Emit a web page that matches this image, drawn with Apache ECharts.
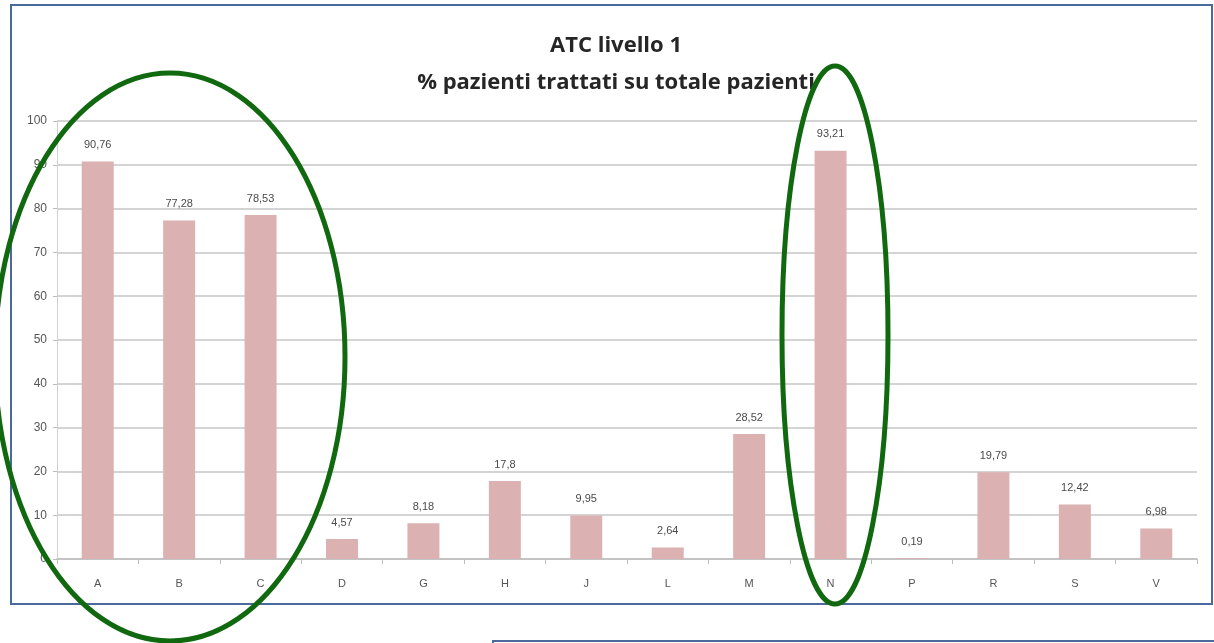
<!DOCTYPE html>
<html lang="it">
<head>
    <meta charset="UTF-8">
    <title>ATC livello 1</title>
    <script src="https://cdn.jsdelivr.net/npm/echarts@6.0.0/dist/echarts.min.js"></script>
    <style type="text/css">
        html, body { margin: 0; padding: 0; background: #fff; }
        #myChart { width: 1214px; height: 643px; }
    </style>
</head>
<body>
<div id="myChart"></div>

<script>
    // ATC level 1 codes
    var categories = ['A', 'B', 'C', 'D', 'G', 'H', 'J', 'L', 'M', 'N', 'P', 'R', 'S', 'V'];
    // % patients treated over all patients
    var values = [90.76, 77.28, 78.53, 4.57, 8.18, 17.8, 9.95, 2.64, 28.52, 93.21, 0.19, 19.79, 12.42, 6.98];
    var yTicks = [0, 100, 10]; // min, max, step

    var frameColor = '#4a6a9c';
    var ringColor = '#10680f';

    var myChart = echarts.init(document.getElementById('myChart'));

    var option = {
        animation: false,
        backgroundColor: '#fff',
        title: {
            text: 'ATC livello 1\n% pazienti trattati su totale pazienti',
            left: 611,
            textAlign: 'center',
            top: 22,
            textStyle: {
                fontFamily: 'Open Sans',
                fontWeight: 'bold',
                fontSize: 22,
                lineHeight: 37,
                color: '#262626'
            }
        },
        grid: {
            left: 57,
            right: 17,
            top: 121,
            bottom: 84
        },
        xAxis: {
            type: 'category',
            data: categories,
            axisLine: { lineStyle: { color: '#bdbdbd', width: 1.5 } },
            axisTick: { show: true, length: 5, lineStyle: { color: '#bdbdbd' } },
            axisLabel: {
                margin: 19,
                fontFamily: 'Liberation Sans',
                fontSize: 11,
                color: '#555'
            }
        },
        yAxis: {
            type: 'value',
            min: yTicks[0],
            max: yTicks[1],
            interval: yTicks[2],
            axisLine: { show: true, lineStyle: { color: '#d0d0d0' } },
            axisTick: { show: true, length: 4, lineStyle: { color: '#bdbdbd' } },
            axisLabel: {
                margin: 10,
                fontFamily: 'Liberation Sans',
                fontSize: 12,
                color: '#555'
            },
            splitLine: { lineStyle: { color: '#c6c6c6', width: 1.5 } }
        },
        series: [{
            type: 'bar',
            data: values,
            barWidth: 32,
            itemStyle: { color: '#dcb1b2' },
            label: {
                show: true,
                position: 'top',
                distance: 11,
                fontFamily: 'Liberation Sans',
                fontSize: 11,
                color: '#4a4a4a',
                formatter: function (p) {
                    return String(p.value).replace('.', ',');
                }
            }
        }],
        graphic: [
            {
                type: 'rect',
                shape: { x: 11, y: 5, width: 1201, height: 599 },
                style: { fill: 'none', stroke: frameColor, lineWidth: 2 },
                z: 10
            },
            {
                type: 'rect',
                shape: { x: 493, y: 641, width: 730, height: 30 },
                style: { fill: 'none', stroke: frameColor, lineWidth: 2 },
                z: 10
            },
            {
                type: 'ellipse',
                shape: { cx: 170, cy: 357, rx: 175, ry: 284 },
                style: { fill: 'none', stroke: ringColor, lineWidth: 5 },
                z: 20
            },
            {
                type: 'ellipse',
                shape: { cx: 835, cy: 335, rx: 53, ry: 269 },
                style: { fill: 'none', stroke: ringColor, lineWidth: 5 },
                z: 20
            }
        ]
    };

    myChart.setOption(option);
</script>
</body>
</html>
